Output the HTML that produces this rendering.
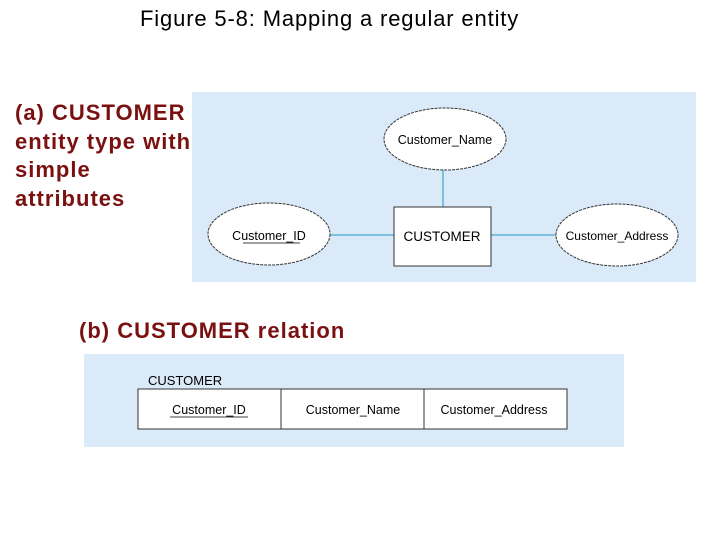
<!DOCTYPE html>
<html><head><style>
body{margin:0;width:720px;height:540px;background:#fff;position:relative;font-family:"Liberation Sans",sans-serif;overflow:hidden}
.t{position:absolute;white-space:nowrap}
.red{color:#7a1010;font-weight:bold;font-size:22px;letter-spacing:1px}
</style></head><body>
<div class="t" style="left:140px;top:6px;font-size:22px;letter-spacing:0.85px;color:#000">Figure 5-8: Mapping a regular entity</div>
<div class="t red" style="left:15px;top:99px;line-height:28.5px">(a) CUSTOMER<br>entity type with<br>simple<br>attributes</div>
<div class="t red" style="left:79px;top:318px">(b) CUSTOMER relation</div>
<svg width="720" height="540" style="position:absolute;left:0;top:0" font-family="Liberation Sans, sans-serif" font-size="12.5">
<rect x="192" y="92" width="504" height="190" fill="#dbeaf8"/>
<line x1="443" y1="170" x2="443" y2="207" stroke="#4aa8d0" stroke-width="1.3"/>
<line x1="330" y1="235" x2="394" y2="235" stroke="#4aa8d0" stroke-width="1.3"/>
<line x1="491" y1="235" x2="557" y2="235" stroke="#4aa8d0" stroke-width="1.3"/>
<ellipse cx="445" cy="139" rx="61" ry="31" fill="#fff" stroke="#333" stroke-dasharray="3 1"/>
<ellipse cx="269" cy="234" rx="61" ry="31" fill="#fff" stroke="#333" stroke-dasharray="3 1"/>
<ellipse cx="617" cy="235" rx="61" ry="31" fill="#fff" stroke="#333" stroke-dasharray="3 1"/>
<rect x="394" y="207" width="97" height="59" fill="#fff" stroke="#333"/>
<text x="445" y="144" text-anchor="middle">Customer_Name</text>
<text x="269" y="240" text-anchor="middle">Customer_ID</text>
<line x1="243" y1="243" x2="300" y2="243" stroke="#000" stroke-width="0.8"/>
<text x="617" y="240" text-anchor="middle" font-size="12">Customer_Address</text>
<text x="442" y="241" text-anchor="middle" font-size="13.5">CUSTOMER</text>
<rect x="84" y="354" width="540" height="93" fill="#dbeaf8"/>
<text x="148" y="385" font-size="13">CUSTOMER</text>
<rect x="138" y="389" width="429" height="40" fill="#fff" stroke="#333"/>
<line x1="281" y1="389" x2="281" y2="429" stroke="#333"/>
<line x1="424" y1="389" x2="424" y2="429" stroke="#333"/>
<text x="209" y="414" text-anchor="middle">Customer_ID</text>
<line x1="170" y1="417" x2="248" y2="417" stroke="#000" stroke-width="0.8"/>
<text x="353" y="414" text-anchor="middle">Customer_Name</text>
<text x="494" y="414" text-anchor="middle">Customer_Address</text>
</svg>
</body></html>
